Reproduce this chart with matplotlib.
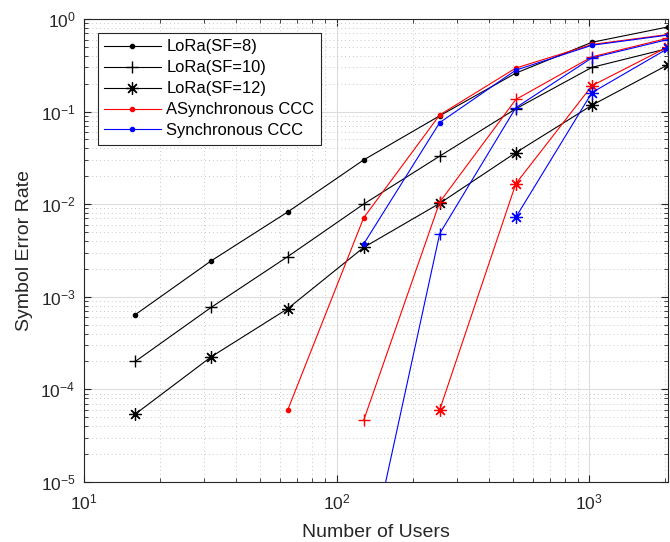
import numpy as np
import matplotlib
matplotlib.use('Agg')
import matplotlib.pyplot as plt
from matplotlib.ticker import LogLocator, NullFormatter

plt.rcParams['font.family'] = ['Liberation Sans', 'DejaVu Sans']
plt.rcParams['mathtext.fontset'] = 'custom'
plt.rcParams['mathtext.rm'] = 'Liberation Sans'

# число пользователей
users = [16, 32, 64, 128, 256, 512, 1024, 2048]

# LoRa
sf8 = [6.4e-4, 2.45e-3, 8.2e-3, 0.030, 0.090, 0.26, 0.56, 0.82]
sf10 = [2.0e-4, 7.7e-4, 2.7e-3, 0.0100, 0.033, 0.107, 0.30, 0.48]
sf12 = [5.4e-5, 2.25e-4, 7.4e-4, 3.4e-3, 0.0102, 0.036, 0.117, 0.32]

# асинхронный CCC
async_dot_x = [64, 128, 256, 512, 1024, 2048]
async_dot = [5.9e-5, 7.1e-3, 0.092, 0.295, 0.53, 0.68]
async_plus_x = [128, 256, 512, 1024, 2048]
async_plus = [4.6e-5, 0.0105, 0.135, 0.39, 0.62]
async_star_x = [256, 512, 1024, 2048]
async_star = [6.0e-5, 0.0166, 0.19, 0.50]

# синхронный CCC
sync_dot_x = [128, 256, 512, 1024, 2048]
sync_dot = [3.7e-3, 0.076, 0.28, 0.52, 0.67]
sync_plus_x = [128, 256, 512, 1024, 2048]
sync_plus = [8e-7, 4.8e-3, 0.11, 0.38, 0.60]
sync_star_x = [512, 1024, 2048]
sync_star = [7.2e-3, 0.16, 0.48]

fig = plt.figure(figsize=(6.7, 5.42), dpi=100)
ax = fig.add_axes([0.125, 0.111, 0.872, 0.854])

lw = 0.8
STAR = (8, 2, 0)   # звёздочка как в MATLAB
ax.loglog(users, sf8, 'k.-', lw=lw, ms=6, label='LoRa(SF=8)')
ax.loglog(users, sf10, 'k-', marker='+', lw=lw, ms=9, mew=1.0, label='LoRa(SF=10)')
ax.loglog(users, sf12, 'k-', marker=STAR, lw=lw, ms=9, mew=0.9, label='LoRa(SF=12)')

red = '#ff0000'
blue = '#0000ff'
ax.loglog(async_dot_x, async_dot, '.-', color=red, lw=lw, ms=6, label='ASynchronous CCC')
ax.loglog(sync_dot_x, sync_dot, '.-', color=blue, lw=lw, ms=6, label='Synchronous CCC')
ax.loglog(async_plus_x, async_plus, '-', marker='+', color=red, lw=lw, ms=9, mew=1.0)
ax.loglog(sync_plus_x, sync_plus, '-', marker='+', color=blue, lw=lw, ms=9, mew=1.0)
ax.loglog(async_star_x, async_star, '-', marker=STAR, color=red, lw=lw, ms=9, mew=0.9)
ax.loglog(sync_star_x, sync_star, '-', marker=STAR, color=blue, lw=lw, ms=9, mew=0.9)

ax.set_xlim(10, 2048)
ax.set_ylim(1e-5, 1)

ax.xaxis.set_major_locator(LogLocator(base=10, numticks=10))
ax.xaxis.set_minor_locator(LogLocator(base=10, subs=np.arange(2, 10), numticks=20))
ax.xaxis.set_minor_formatter(NullFormatter())
ax.yaxis.set_major_locator(LogLocator(base=10, numticks=10))
ax.yaxis.set_minor_locator(LogLocator(base=10, subs=np.arange(2, 10), numticks=20))
ax.yaxis.set_minor_formatter(NullFormatter())

ax.grid(True, which='major', color='#dcdcdc', lw=0.8, ls='-')
ax.grid(True, which='minor', color='#c8c8c8', lw=0.7, ls=(0, (1, 3)))
ax.set_axisbelow(True)

ax.tick_params(which='both', direction='in', top=True, right=True,
               colors='#262626', labelsize=12.5)
ax.tick_params(which='major', length=5)
ax.tick_params(which='minor', length=3)
ax.tick_params(axis='x', which='major', pad=8)
ax.tick_params(axis='y', which='major', pad=6)
for s in ax.spines.values():
    s.set_color('#262626')
    s.set_linewidth(0.8)

ax.set_xlabel('Number of Users', fontsize=14, color='#262626', labelpad=8)
ax.set_ylabel('Symbol Error Rate', fontsize=14, color='#262626', labelpad=5)

leg = ax.legend(loc='upper left', bbox_to_anchor=(0.024, 0.970), fontsize=11.9,
                frameon=True, fancybox=False, edgecolor='#262626', framealpha=1,
                borderaxespad=0, handlelength=3.4, borderpad=0.4,
                labelspacing=0.36, handletextpad=0.35)
leg.get_frame().set_linewidth(0.8)

fig.savefig('out.png', dpi=100)
